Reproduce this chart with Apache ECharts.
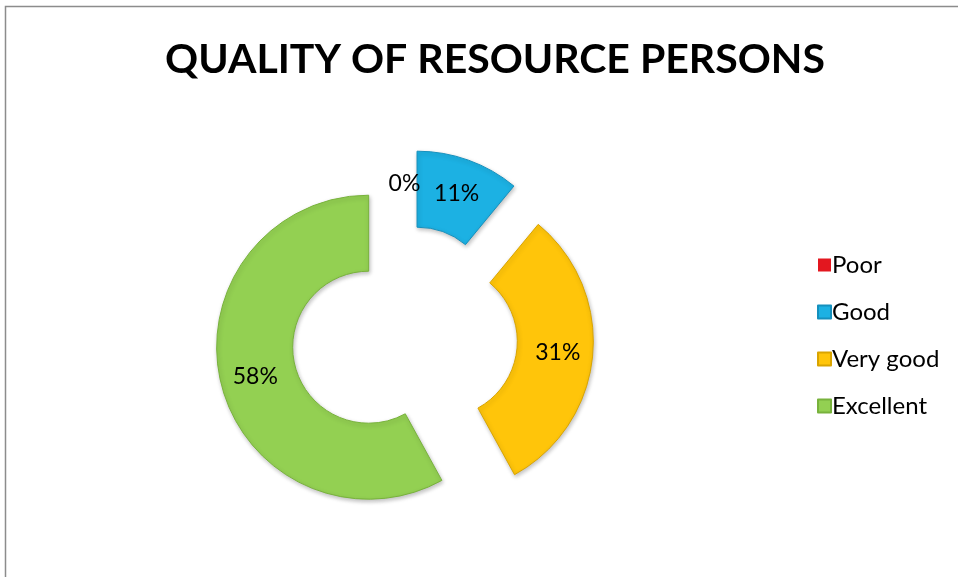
<!DOCTYPE html>
<html><head><meta charset="utf-8">
<script src="https://cdn.jsdelivr.net/npm/echarts@6/dist/echarts.min.js"></script>
<style>html,body{margin:0;padding:0;background:#fff}#c{width:958px;height:577px}</style>
</head><body><div id="c"></div>
<script>
const categories = ['Poor', 'Good', 'Very good', 'Excellent'];
const values = [0, 11, 31, 58];
const colors = ['#e3171f', '#1cb1e3', '#ffc50a', '#93d052'];
const borders = ['#9a0b10', '#1590bd', '#d9a400', '#78b23c'];

const chart = echarts.init(document.getElementById('c'));
chart.setOption({
  animation: false,
  title: {
    text: 'QUALITY OF RESOURCE PERSONS',
    left: 490, top: 34, textAlign: 'center',
    textStyle: { fontFamily: 'Lato', fontWeight: 'bold', fontSize: 41, color: '#000' }
  },
  graphic: [{
    type: 'rect', silent: true,
    shape: { x: 5.5, y: 6.5, width: 2000, height: 2000 },
    style: { fill: 'none', stroke: '#8c8c8c', lineWidth: 1.5 }
  }],
  legend: {
    orient: 'vertical', left: 812, top: 248,
    itemWidth: 13, itemHeight: 13, itemGap: 23,
    icon: 'rect',
    selectedMode: false,
    textStyle: { fontFamily: 'Lato', fontSize: 24, color: '#000', padding: [0, 0, 0, -4] },
    data: categories
  },
  series: [{
    type: 'pie',
    center: [404.5, 338],
    radius: [76, 152],
    startAngle: 90,
    clockwise: true,
    selectedMode: 'multiple',
    selectedOffset: 37,
    avoidLabelOverlap: false,
    emphasis: { disabled: true },
    label: {
      show: true, position: 'inside', formatter: '{d}%',
      fontFamily: 'Lato', fontSize: 23, color: '#000'
    },
    labelLine: { show: false },
    data: categories.map((name, i) => ({
      name, value: values[i], selected: true,
      itemStyle: {
        color: colors[i],
        borderColor: borders[i], borderWidth: values[i] > 0 ? 1 : 0,
        shadowBlur: values[i] > 0 ? 4 : 0, shadowColor: 'rgba(0,0,0,0.25)', shadowOffsetX: 1, shadowOffsetY: 2
      }
    }))
  }]
});
</script></body></html>
